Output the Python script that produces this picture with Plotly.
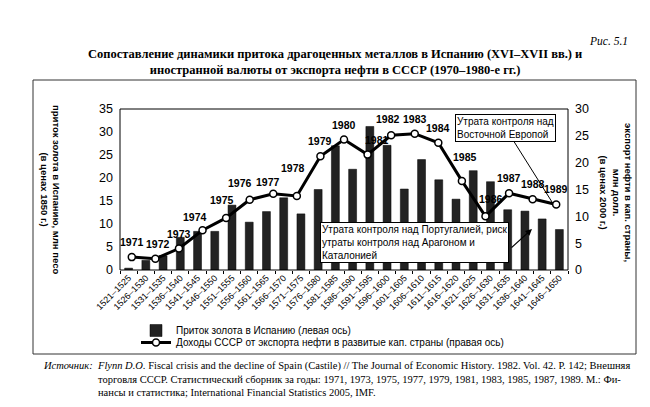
import plotly.graph_objects as go

# ---------------- data ----------------
periods = ["1521–1525", "1526–1530", "1531–1535", "1536–1540", "1541–1545", "1546–1550",
           "1551–1555", "1556–1560", "1561–1565", "1566–1570", "1571–1575", "1576–1580",
           "1581–1585", "1586–1590", "1591–1595", "1596–1600", "1601–1605", "1606–1610",
           "1611–1615", "1616–1620", "1621–1625", "1626–1630", "1631–1635", "1636–1640",
           "1641–1645", "1646–1650"]
gold = [0.4, 2.1, 3.1, 7.1, 8.4, 8.4, 14.1, 10.4, 12.7, 15.7, 12.2, 17.5, 27.0, 21.9,
        31.2, 27.1, 17.6, 24.0, 19.6, 15.4, 21.6, 19.2, 13.1, 12.8, 11.1, 8.8]

years = ["1971", "1972", "1973", "1974", "1975", "1976", "1977", "1978", "1979", "1980",
         "1981", "1982", "1983", "1984", "1985", "1986", "1987", "1988", "1989"]
oil = [2.4, 2.1, 4.0, 7.4, 9.7, 13.1, 14.2, 13.8, 21.2, 24.3, 21.5, 25.1, 25.4, 23.7,
       16.6, 10.0, 14.3, 13.2, 12.2]

left_ticks = [0, 5, 10, 15, 20, 25, 30, 35]
right_ticks = [0, 5, 10, 15, 20, 25, 30]

# ---------------- layout helpers ----------------
W, H = 650, 407
L, R, T, B = 112, 90, 101, 145
PW, PH = W - L - R, H - T - B


def px(x):
    return (x - L) / PW


def py(y):
    return (H - B - y) / PH


SANS = "Liberation Sans, Arial, sans-serif"
SERIF = "Liberation Serif, Times New Roman, serif"

fig = go.Figure()

fig.add_trace(go.Bar(
    x=periods, y=gold, name="Приток золота в Испанию (левая ось)",
    marker=dict(color="#222222", line=dict(color="#000000", width=0.5)),
    xaxis="x", yaxis="y", legend="legend",
))

fig.add_trace(go.Scatter(
    x=years, y=oil, name="Доходы СССР от экспорта нефти в развитые кап. страны (правая ось)",
    mode="lines+markers",
    line=dict(color="#000000", width=3),
    marker=dict(symbol="circle", size=7, color="#ffffff", line=dict(color="#000000", width=1.5)),
    xaxis="x2", yaxis="y2", legend="legend2",
))

# year labels for the line points (category axis -> serial index)
label_shift = {"1972": (3, 15), "1974": (-8, 13), "1975": (-4, 18), "1976": (-10, 17),
               "1977": (-5, 12), "1978": (-4, 28), "1981": (9, 15), "1982": (-3, 16),
               "1985": (3, 24), "1986": (6, 17), "1989": (0, 16)}
annotations = []
for i, (yr, v) in enumerate(zip(years, oil)):
    dx, dy = label_shift.get(yr, (0, 15))
    annotations.append(dict(
        x=i, y=v, xref="x2", yref="y2", text="<b>%s</b>" % yr, showarrow=False,
        xanchor="center", yanchor="middle",
        xshift=dx, yshift=dy, font=dict(family=SANS, size=10.5, color="#000000"),
    ))

# callout boxes
annotations.append(dict(
    x=px(312), y=py(234), xref="paper", yref="paper", xanchor="left", yanchor="middle",
    text="Утрата контроля над Португалией, риск<br>утраты контроля над Арагоном и<br>Каталонией",
    align="left", showarrow=False, bgcolor="#ffffff", bordercolor="#000000", borderwidth=1,
    borderpad=1, font=dict(family=SANS, size=10, color="#000000"),
))
annotations.append(dict(
    x=px(524), y=py(221), xref="paper", yref="paper", text="", showarrow=True,
    ax=-22, ay=20, arrowhead=2, arrowsize=1, arrowwidth=1.3, arrowcolor="#000000",
))
annotations.append(dict(
    x=px(447), y=py(119.5), xref="paper", yref="paper", xanchor="left", yanchor="middle",
    text="Утрата контроля над<br>Восточной Европой",
    align="left", showarrow=False, bgcolor="#ffffff", bordercolor="#000000", borderwidth=1,
    borderpad=1, font=dict(family=SANS, size=10, color="#000000"),
))
annotations.append(dict(
    x=px(544), y=py(194), xref="paper", yref="paper", text="", showarrow=True,
    ax=-39, ay=-62, arrowhead=0, arrowwidth=1, arrowcolor="#000000",
))

# axis titles (rotated clockwise)
annotations.append(dict(
    x=px(43), y=py(181), xref="paper", yref="paper", textangle=90, showarrow=False,
    xanchor="center", yanchor="middle",
    text="<b>приток золота в Испанию, млн песо<br>(в ценах 1850 г.)</b>",
    font=dict(family=SANS, size=9.5, color="#000000"),
))
annotations.append(dict(
    x=px(608), y=py(184), xref="paper", yref="paper", textangle=90, showarrow=False,
    xanchor="center", yanchor="middle",
    text="<b>экспорт нефти в кап. страны,<br>млн долл.<br>(в ценах 2000 г.)</b>",
    font=dict(family=SANS, size=9.5, color="#000000"),
))

# title and figure number
annotations.append(dict(
    x=px(327), y=py(54.5), xref="paper", yref="paper", showarrow=False,
    xanchor="center", yanchor="middle",
    text="<b>Сопоставление динамики притока драгоценных металлов в Испанию (XVI–XVII вв.) и<br>"
         "иностранной валюты от экспорта нефти в СССР (1970–1980-е гг.)</b>",
    font=dict(family=SERIF, size=12.5, color="#000000"),
))
annotations.append(dict(
    x=px(622), y=py(33), xref="paper", yref="paper", xanchor="right", yanchor="middle",
    showarrow=False,
    text="<i>Рис. 5.1</i>", font=dict(family=SERIF, size=11.5, color="#000000"),
))

# source note
annotations.append(dict(
    x=px(33), y=py(357), xref="paper", yref="paper", xanchor="left", yanchor="middle",
    showarrow=False, text="<i>Источник:</i>", font=dict(family=SERIF, size=10.5, color="#000000"),
))
annotations.append(dict(
    x=px(87), y=py(350), xref="paper", yref="paper", xanchor="left", yanchor="top",
    showarrow=False, align="left",
    text="<i>Flynn D.O.</i> Fiscal crisis and the decline of Spain (Castile) // The Journal of Economic History. 1982. Vol. 42. P. 142; Внешняя<br>"
         "торговля СССР. Статистический сборник за годы: 1971, 1973, 1975, 1977, 1979, 1981, 1983, 1985, 1987, 1989. М.: Фи-<br>"
         "нансы и статистика; International Financial Statistics 2005, IMF.",
    font=dict(family=SERIF, size=10.5, color="#000000"),
))

shapes = [
    dict(type="rect", xref="paper", yref="paper", x0=0, x1=1, y0=0, y1=1,
         line=dict(color="#000000", width=1)),
    dict(type="rect", xref="paper", yref="paper", x0=px(25), x1=px(628), y0=py(346), y1=py(72),
         line=dict(color="#333333", width=1)),
]

legend_common = dict(xanchor="left", yanchor="top",
                     font=dict(family=SANS, size=10, color="#000000"),
                     bgcolor="rgba(0,0,0,0)", tracegroupgap=0)

fig.update_layout(
    width=W, height=H,
    margin=dict(l=L, r=R, t=T, b=B, autoexpand=False),
    paper_bgcolor="#ffffff", plot_bgcolor="#ffffff",
    bargap=0.54,
    showlegend=True,
    legend=dict(x=px(128), y=py(308), **legend_common),
    legend2=dict(x=px(128), y=py(320), **legend_common),
    xaxis=dict(type="category", range=[-0.5, len(periods) - 0.5], tickangle=-45,
               tickfont=dict(family=SANS, size=9, color="#000000"),
               showgrid=False, zeroline=False, showline=False, automargin=False,
               ticks="outside", ticklen=3, tickcolor="#000000", tickson="boundaries"),
    xaxis2=dict(type="category", overlaying="x", range=[-0.5, len(years) - 0.5],
                showticklabels=False, ticks="", showgrid=False, zeroline=False,
                showline=False, automargin=False),
    yaxis=dict(range=[0, 35], tickvals=left_ticks, showgrid=False, zeroline=False,
               tickfont=dict(family=SANS, size=12.5, color="#000000"), ticklabelstandoff=6,
               automargin=False),
    yaxis2=dict(range=[0, 30], tickvals=right_ticks, overlaying="y", side="right",
                showgrid=False, zeroline=False, anchor="x",
                tickfont=dict(family=SANS, size=12.5, color="#000000"), ticklabelstandoff=6,
                automargin=False),
    annotations=annotations,
    shapes=shapes,
)

fig.write_html("out.html")
